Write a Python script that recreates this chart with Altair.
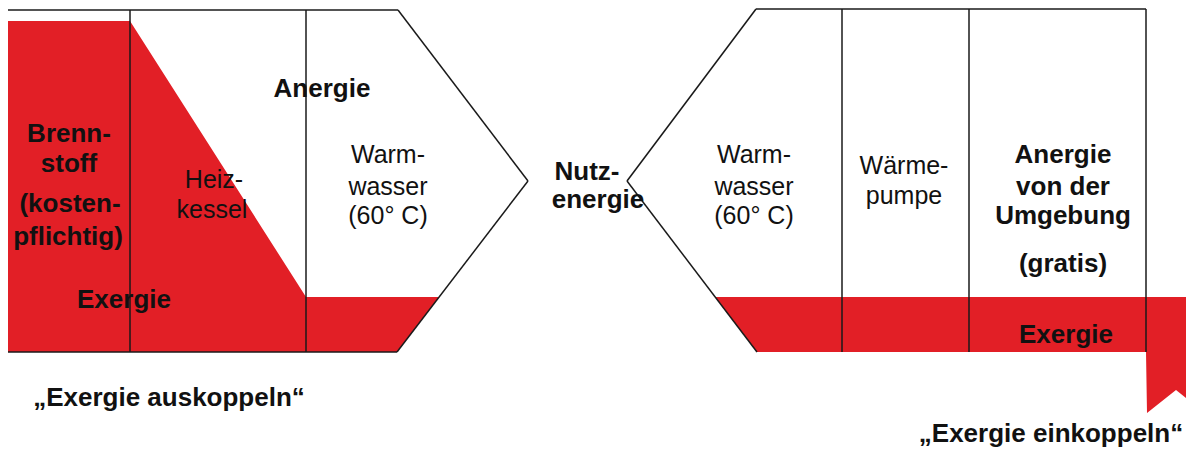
import altair as alt
import pandas as pd

# --- exergy (red) regions: x breakpoints with upper / lower bounds (diagram units) ---
left_x = [8, 130, 306, 397, 439]
left_top = [21, 21, 297, 297, 297]
left_bot = [352, 352, 352, 352, 297]

right_x = [715, 757, 1146, 1147, 1176, 1205]
right_top = [297, 297, 297, 297, 297, 297]
right_bot = [297, 352, 352, 413, 390, 413]

# --- outline segments ---
seg_x1 = [8, 398, 528, 8, 130, 306, 756, 627, 756, 1146, 842, 969]
seg_y1 = [10, 10, 181, 352, 10, 10, 9, 181, 9, 9, 9, 9]
seg_x2 = [398, 528, 397, 397, 130, 306, 627, 757, 1146, 1146, 842, 969]
seg_y2 = [10, 181, 352, 352, 352, 352, 181, 352, 9, 352, 352, 352]

# --- labels ---
bold_text = ["Anergie", "Brenn-", "stoff", "(kosten-", "pflichtig)", "Exergie",
             "Nutz-", "energie", "Anergie", "von der", "Umgebung", "(gratis)",
             "Exergie", "„Exergie auskoppeln“", "„Exergie einkoppeln“"]
bold_x = [322, 69, 69, 70, 68, 124, 587, 598, 1063, 1063, 1063, 1063, 1066, 169, 1051]
bold_y = [97, 142, 172, 212, 245, 308, 180, 208, 163, 195, 224, 272, 343, 406, 442]

normal_text = ["Heiz-", "kessel", "Warm-", "wasser", "(60° C)",
               "Warm-", "wasser", "(60° C)", "Wärme-", "pumpe"]
normal_x = [214, 212, 388, 388, 388, 754, 754, 754, 904, 904]
normal_y = [188, 218, 163, 195, 224, 163, 195, 224, 174, 204]

RED = "#E21F26"
FONT = "Liberation Sans"

xs = alt.Scale(domain=[8, 1186], nice=False, zero=False)
ys = alt.Scale(domain=[8, 447], nice=False, zero=False, reverse=True)

left_df = pd.DataFrame({"x": left_x, "top": left_top, "bot": left_bot})
right_df = pd.DataFrame({"x": right_x, "top": right_top, "bot": right_bot})
seg_df = pd.DataFrame({"x1": seg_x1, "y1": seg_y1, "x2": seg_x2, "y2": seg_y2})
bold_df = pd.DataFrame({"t": bold_text, "x": bold_x, "y": bold_y})
norm_df = pd.DataFrame({"t": normal_text, "x": normal_x, "y": normal_y})


def red_area(df):
    return alt.Chart(df).mark_area(color=RED, opacity=1, interpolate="linear").encode(
        x=alt.X("x:Q", scale=xs, axis=None),
        y=alt.Y("top:Q", scale=ys, axis=None, stack=None),
        y2="bot:Q",
    )


segs = alt.Chart(seg_df).mark_rule(color="#1a1a1a", strokeWidth=1.5).encode(
    x=alt.X("x1:Q", scale=xs, axis=None),
    y=alt.Y("y1:Q", scale=ys, axis=None),
    x2="x2:Q",
    y2="y2:Q",
)

bold = alt.Chart(bold_df).mark_text(
    font=FONT, fontSize=26, fontWeight="bold", color="#111111",
    align="center", baseline="alphabetic"
).encode(
    x=alt.X("x:Q", scale=xs, axis=None),
    y=alt.Y("y:Q", scale=ys, axis=None),
    text="t:N",
)

normal = alt.Chart(norm_df).mark_text(
    font=FONT, fontSize=25, fontWeight="normal", color="#111111",
    align="center", baseline="alphabetic"
).encode(
    x=alt.X("x:Q", scale=xs, axis=None),
    y=alt.Y("y:Q", scale=ys, axis=None),
    text="t:N",
)

chart = alt.layer(red_area(left_df), red_area(right_df), segs, bold, normal).properties(
    width=1178, height=439, padding=0,
    autosize=alt.AutoSizeParams(type="none"),
    background="white",
).configure_view(stroke=None)

chart.save("out.html", embed_options={"renderer": "svg", "actions": False})
